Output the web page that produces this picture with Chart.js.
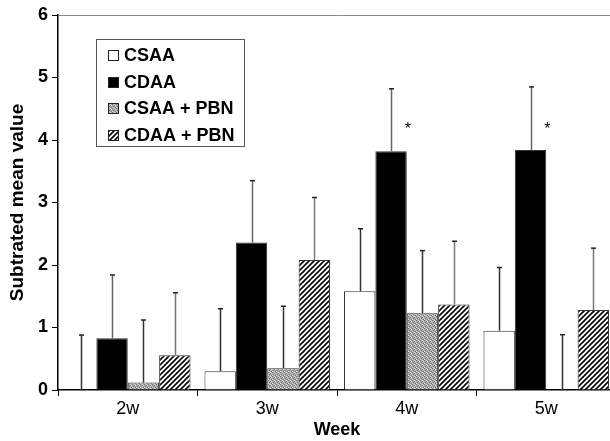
<!DOCTYPE html>
<html>
<head>
<meta charset="utf-8">
<script src="https://cdn.jsdelivr.net/npm/chart.js@4.4.1/dist/chart.umd.min.js"></script>
<style>
    body { margin: 0; background: #fff; }
    #wrap { width: 610px; height: 441px; overflow: hidden; }
</style>
</head>
<body>
<div id="wrap"><canvas id="myChart" width="620" height="441"></canvas></div>
<script>
// Data
const weeks = ['2w', '3w', '4w', '5w'];
const csaa = [0, 0.30, 1.58, 0.95];
const csaaErr = [0.88, 1.00, 1.00, 1.01];
const cdaa = [0.83, 2.36, 3.82, 3.84];
const cdaaErr = [1.01, 0.99, 1.00, 1.01];
const csaaPbn = [0.12, 0.35, 1.23, 0];
const csaaPbnErr = [1.00, 0.99, 1.00, 0.885];
const cdaaPbn = [0.555, 2.08, 1.37, 1.28];
const cdaaPbnErr = [1.00, 1.00, 1.01, 0.99];
const stars = ['', '', '*', '*'];   // significance marks on CDAA
const starLevel = 4.22;
const yTicks = [0, 1, 2, 3, 4, 5, 6];

// fill patterns
function stipple() {
    const c = document.createElement('canvas');
    c.width = 4; c.height = 4;
    const g = c.getContext('2d');
    g.fillStyle = '#b0b0b0';
    g.fillRect(0, 0, 4, 4);
    g.fillStyle = '#6e6e6e';
    [[0, 0], [2, 1], [1, 2], [3, 3]].forEach(p => g.fillRect(p[0], p[1], 1, 1));
    g.fillStyle = '#d8d8d8';
    [[2, 0], [0, 3], [3, 1]].forEach(p => g.fillRect(p[0], p[1], 1, 1));
    return g.createPattern(c, 'repeat');
}

function hatch() {
    const c = document.createElement('canvas');
    c.width = 5; c.height = 5;
    const g = c.getContext('2d');
    g.fillStyle = '#fff';
    g.fillRect(0, 0, 5, 5);
    g.strokeStyle = '#000';
    g.lineWidth = 1.6;
    g.beginPath();
    g.moveTo(-1, 6); g.lineTo(6, -1);
    g.moveTo(-1, 1); g.lineTo(1, -1);
    g.moveTo(4, 6); g.lineTo(6, 4);
    g.stroke();
    return g.createPattern(c, 'repeat');
}

const FONT = "'Liberation Sans', Arial, sans-serif";

// error bars drawn upward from each bar top
const errorBars = {
    id: 'errorBars',
    afterDatasetsDraw(chart) {
        const ctx = chart.ctx;
        const yScale = chart.scales.y;
        chart.data.datasets.forEach((ds, i) => {
            const meta = chart.getDatasetMeta(i);
            meta.data.forEach((bar, j) => {
                const top = yScale.getPixelForValue(ds.data[j] + ds.errors[j]);
                const x = Math.round(bar.x) + 0.5;
                ctx.save();
                ctx.strokeStyle = ds.errorColor;
                ctx.lineWidth = 1.5;
                ctx.beginPath();
                ctx.moveTo(x, bar.y);
                ctx.lineTo(x, top);
                ctx.stroke();
                ctx.strokeStyle = '#222';
                ctx.beginPath();
                ctx.moveTo(x - 2.5, top);
                ctx.lineTo(x + 2.5, top);
                ctx.stroke();
                ctx.restore();
            });
        });
        // asterisks
        const meta = chart.getDatasetMeta(1);
        ctx.save();
        ctx.fillStyle = '#000';
        ctx.font = '16px ' + FONT;
        ctx.textAlign = 'center';
        ctx.textBaseline = 'middle';
        meta.data.forEach((bar, j) => {
            if (stars[j]) {
                ctx.fillText(stars[j], bar.x + bar.width / 2 + 1, yScale.getPixelForValue(starLevel) + 3);
            }
        });
        ctx.restore();
    }
};

// boxed legend in the top-left of the plot
const boxLegend = {
    id: 'boxLegend',
    afterDraw(chart) {
        const ctx = chart.ctx;
        ctx.save();
        ctx.fillStyle = '#fff';
        ctx.fillRect(96, 39, 148, 107);
        ctx.strokeStyle = '#555';
        ctx.lineWidth = 1;
        ctx.strokeRect(96.5, 39.5, 148, 107);
        ctx.font = 'bold 18px ' + FONT;
        ctx.textBaseline = 'middle';
        chart.data.datasets.forEach((ds, i) => {
            const cy = 55 + i * 26.7;
            ctx.fillStyle = ds.backgroundColor;
            ctx.fillRect(108, Math.round(cy - 5), 10, 10);
            ctx.strokeStyle = '#222';
            ctx.strokeRect(108.5, Math.round(cy - 5) + 0.5, 10, 10);
            ctx.fillStyle = '#000';
            ctx.fillText(ds.label, 124, cy + 1);
        });
        ctx.restore();
    }
};

const ctx = document.getElementById('myChart').getContext('2d');
const myChart = new Chart(ctx, {
    type: 'bar',
    data: {
        labels: weeks,
        datasets: [{
            label: 'CSAA',
            data: csaa,
            errors: csaaErr,
            errorColor: '#333',
            backgroundColor: '#fff'
        }, {
            label: 'CDAA',
            data: cdaa,
            errors: cdaaErr,
            errorColor: '#666',
            backgroundColor: '#000'
        }, {
            label: 'CSAA + PBN',
            data: csaaPbn,
            errors: csaaPbnErr,
            errorColor: '#333',
            backgroundColor: stipple()
        }, {
            label: 'CDAA + PBN',
            data: cdaaPbn,
            errors: cdaaPbnErr,
            errorColor: '#777',
            backgroundColor: hatch()
        }]
    },
    options: {
        responsive: false,
        animation: false,
        devicePixelRatio: 1,
        layout: { padding: { top: 15, right: 4, left: 0, bottom: 0 } },
        datasets: {
            bar: {
                borderColor: '#333',
                borderWidth: 1,
                categoryPercentage: 0.9,
                barPercentage: 1.0
            }
        },
        plugins: {
            legend: { display: false },
            tooltip: { enabled: false }
        },
        scales: {
            x: {
                offset: true,
                grid: { offset: true, drawOnChartArea: false, tickLength: 6, color: '#000' },
                border: { color: '#000', width: 1.5 },
                ticks: { color: '#000', font: { family: FONT, size: 18 }, padding: 2 },
                title: {
                    display: true,
                    text: 'Week',
                    color: '#000',
                    font: { family: FONT, size: 18, weight: 'bold' },
                    padding: { top: 0, bottom: 0 }
                },
                afterFit: scale => { scale.height = 51; }
            },
            y: {
                min: 0,
                max: 6,
                afterBuildTicks: scale => { scale.ticks = yTicks.map(v => ({ value: v })); },
                grid: {
                    color: c => (c.tick && c.tick.value === 6 ? '#888' : 'rgba(0,0,0,0)'),
                    tickColor: '#000',
                    tickLength: 6
                },
                border: { color: '#000', width: 1.5 },
                ticks: { color: '#000', font: { family: FONT, size: 18, weight: 'bold' }, padding: 4 },
                title: {
                    display: true,
                    text: 'Subtrated mean value',
                    color: '#000',
                    font: { family: FONT, size: 19, weight: 'bold' },
                    padding: { top: 6, bottom: 0 }
                },
                afterFit: scale => { scale.width = 58; }
            }
        }
    },
    plugins: [errorBars, boxLegend]
});
</script>
</body>
</html>
